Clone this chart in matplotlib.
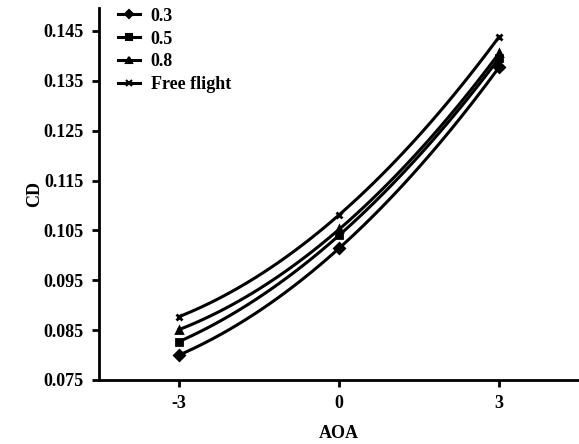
import numpy as np
import matplotlib
matplotlib.use("Agg")
import matplotlib.pyplot as plt

aoa = [-3, 0, 3]
labels = ["0.3", "0.5", "0.8", "Free flight"]
cd_03 = [0.0800, 0.1014, 0.1377]
cd_05 = [0.0827, 0.1040, 0.1395]
cd_08 = [0.0851, 0.1052, 0.1405]
cd_free = [0.0877, 0.1081, 0.1438]
markers = ["D", "s", "^", "x"]
yticks = [0.075, 0.085, 0.095, 0.105, 0.115, 0.125, 0.135, 0.145]

plt.rcParams["font.family"] = ["Liberation Serif", "DejaVu Serif"]
plt.rcParams["font.weight"] = "bold"

fig = plt.figure(figsize=(5.79, 4.44), dpi=100)
ax = fig.add_axes([99/579, 1 - 380/444, 1 - 99/579, (380 - 8)/444])

for ys, m, lab in zip([cd_03, cd_05, cd_08, cd_free], markers, labels):
    coef = np.polyfit(aoa, ys, 2)
    xs = np.linspace(aoa[0], aoa[-1], 100)
    ax.plot(xs, np.polyval(coef, xs), color="black", lw=2.2)
    ax.plot(aoa, ys, linestyle="none", marker=m, color="black", ms=5, mew=2)
    ax.plot([], [], color="black", lw=2.2, marker=m, ms=4, mew=1.5, label=lab)

ax.set_xlim(-4.5, 4.5)
ax.set_ylim(0.075, 0.1496)
ax.set_xticks(aoa)
ax.set_xticklabels(["-3", "0", "3"])
ax.set_yticks(yticks)
ax.set_yticklabels([f"{v:.3f}" for v in yticks])
for s in ["top", "right"]:
    ax.spines[s].set_visible(False)
for s in ["left", "bottom"]:
    ax.spines[s].set_linewidth(2)
ax.tick_params(width=2, length=5, labelsize=13, pad=6)
ax.set_xlabel("AOA", fontsize=13, fontweight="bold", labelpad=9)
ax.set_ylabel("CD", fontsize=13, fontweight="bold", labelpad=0)
ax.legend(loc="upper left", frameon=False, fontsize=13, handlelength=1.2,
          handletextpad=0.6, borderaxespad=0.0, labelspacing=0.32,
          bbox_to_anchor=(0.025, 1.02))

fig.savefig("out.png", dpi=100)
